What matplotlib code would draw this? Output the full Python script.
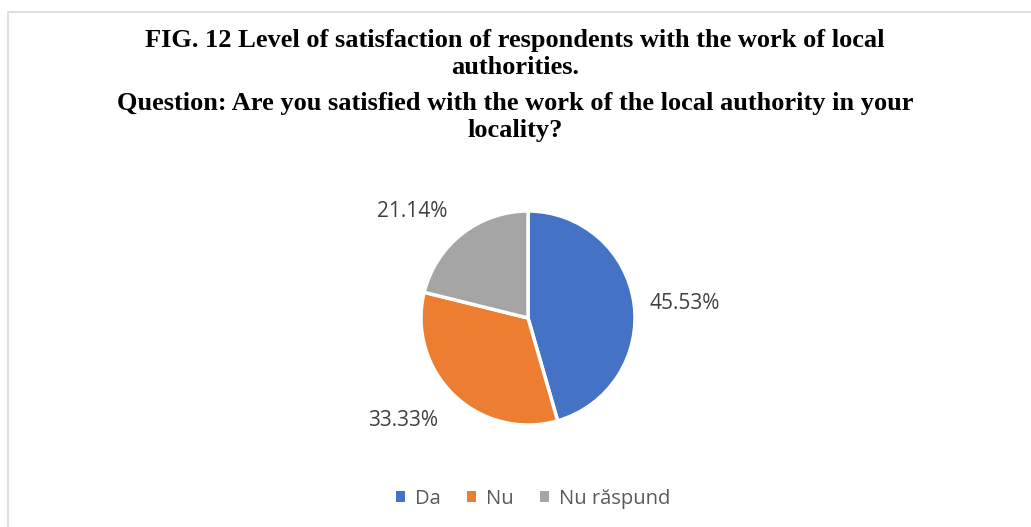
import matplotlib.pyplot as plt
from matplotlib.patches import Rectangle
import numpy as np

# data
categories = ["Da", "Nu", "Nu răspund"]
shares = [45.53, 33.33, 21.14]
colors = ["#4472C4", "#ED7D31", "#A5A5A5"]

title_1 = "FIG. 12 Level of satisfaction of respondents with the work of local\nauthorities."
title_2 = "Question: Are you satisfied with the work of the local authority in your\nlocality?"

W, H = 1031, 527
fig = plt.figure(figsize=(W / 100, H / 100), dpi=100)
fig.patch.set_facecolor("white")

# light chart border
fig.patches.append(Rectangle((8 / W, -0.01), 1.1, 1 - 12 / H + 0.01, transform=fig.transFigure,
                             fill=False, edgecolor="#D9D9D9", linewidth=1.2))

title_kw = dict(ha="center", va="center", family="Liberation Serif", fontweight="bold",
                fontsize=19, linespacing=1.21, color="black")
fig.text(515 / W, 1 - 54 / H, title_1, **title_kw)
fig.text(515 / W, 1 - 117 / H, title_2, **title_kw)

# pie axes: centre (528, 318), radius 107 px
cx, cy, r = 528, 318, 107
ax = fig.add_axes([(cx - r) / W, (H - cy - r) / H, 2 * r / W, 2 * r / H])
wedges, _ = ax.pie(shares, colors=colors, startangle=90, counterclock=False,
                   wedgeprops=dict(edgecolor="white", linewidth=2.5))
ax.set_xlim(-1, 1)
ax.set_ylim(-1, 1)
ax.set_aspect("equal")

# percentage labels: (angle shift from wedge middle, distance in radii)
offsets = [(-2.6, 1.475), (-6.9, 1.51), (9.5, 1.47)]
for w, v, (da, dist) in zip(wedges, shares, offsets):
    ang = np.deg2rad((w.theta1 + w.theta2) / 2 + da)
    ax.text(dist * np.cos(ang), dist * np.sin(ang), f"{v:.2f}%", ha="center", va="center",
            fontsize=15, color="#404040", family="Open Sans", clip_on=False)

leg = fig.legend(wedges, categories, loc="center", bbox_to_anchor=(533 / W, 1 - 499 / H),
                 ncol=3, frameon=False, handlelength=0.45, handleheight=0.45,
                 handletextpad=0.5, columnspacing=1.3,
                 prop=dict(family="Open Sans", size=14.5))
for t in leg.get_texts():
    t.set_color("#595959")
for h in leg.legend_handles:
    h.set_edgecolor("none")

fig.savefig("out.png", dpi=100)
